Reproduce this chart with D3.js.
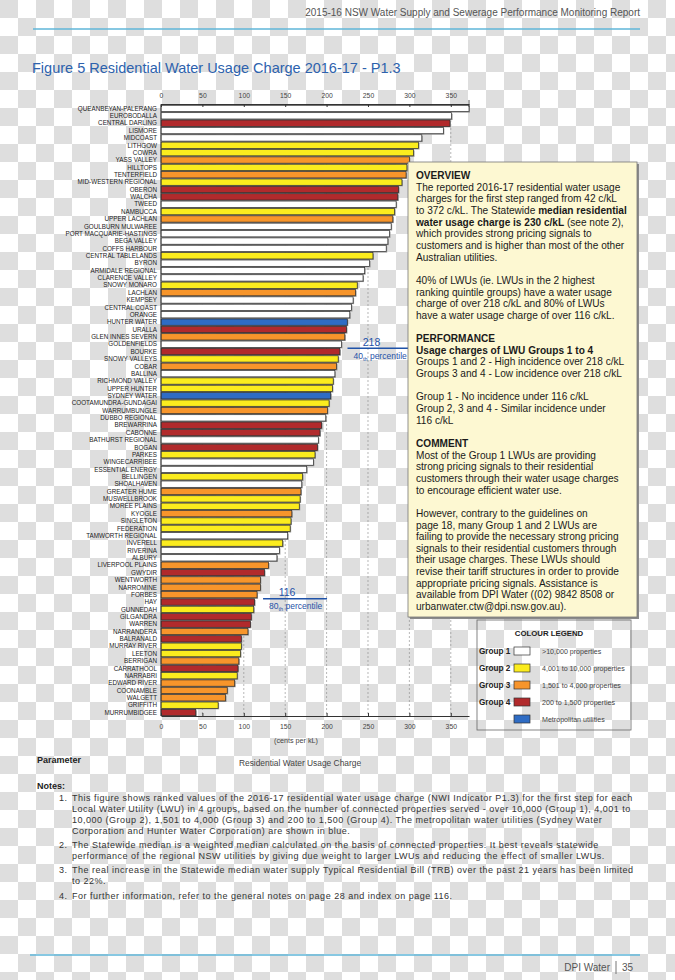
<!DOCTYPE html>
<html>
<head>
<meta charset="utf-8">
<script src="https://cdn.jsdelivr.net/npm/d3@7/dist/d3.min.js"></script>
<style>
body { margin: 0; }
svg { display: block; font-family: "Liberation Sans", Arial, sans-serif; }
</style>
</head>
<body>
<svg id="page" width="675" height="980"></svg>
<script>
const utilities = ['QUEANBEYAN-PALERANG', 'EUROBODALLA', 'CENTRAL DARLING', 'LISMORE', 'MIDCOAST',
    'LITHGOW', 'COWRA', 'YASS VALLEY', 'HILLTOPS', 'TENTERFIELD', 'MID-WESTERN REGIONAL', 'OBERON',
    'WALCHA', 'TWEED', 'NAMBUCCA', 'UPPER LACHLAN', 'GOULBURN MULWAREE', 'PORT MACQUARIE-HASTINGS',
    'BEGA VALLEY', 'COFFS HARBOUR', 'CENTRAL TABLELANDS', 'BYRON', 'ARMIDALE REGIONAL',
    'CLARENCE VALLEY', 'SNOWY MONARO', 'LACHLAN', 'KEMPSEY', 'CENTRAL COAST', 'ORANGE',
    'HUNTER WATER', 'URALLA', 'GLEN INNES SEVERN', 'GOLDENFIELDS', 'BOURKE', 'SNOWY VALLEYS',
    'COBAR', 'BALLINA', 'RICHMOND VALLEY', 'UPPER HUNTER', 'SYDNEY WATER', 'COOTAMUNDRA-GUNDAGAI',
    'WARRUMBUNGLE', 'DUBBO REGIONAL', 'BREWARRINA', 'CABONNE', 'BATHURST REGIONAL', 'BOGAN',
    'PARKES', 'WINGECARRIBEE', 'ESSENTIAL ENERGY', 'BELLINGEN', 'SHOALHAVEN', 'GREATER HUME',
    'MUSWELLBROOK', 'MOREE PLAINS', 'KYOGLE', 'SINGLETON', 'FEDERATION', 'TAMWORTH REGIONAL',
    'INVERELL', 'RIVERINA', 'ALBURY', 'LIVERPOOL PLAINS', 'GWYDIR', 'WENTWORTH', 'NARROMINE',
    'FORBES', 'HAY', 'GUNNEDAH', 'GILGANDRA', 'WARREN', 'NARRANDERA', 'BALRANALD', 'MURRAY RIVER',
    'LEETON', 'BERRIGAN', 'CARRATHOOL', 'NARRABRI', 'EDWARD RIVER', 'COONAMBLE', 'WALGETT',
    'GRIFFITH', 'MURRUMBIDGEE'];

const groups = ['g1', 'g1', 'g4', 'g1', 'g1', 'g2', 'g2', 'g3', 'g2', 'g3', 'g2', 'g4',
    'g4', 'g1', 'g2', 'g3', 'g1', 'g1', 'g1', 'g1', 'g2', 'g1', 'g1',
    'g1', 'g2', 'g3', 'g1', 'g1', 'g1', 'metro', 'g4', 'g3', 'g1', 'g4', 'g2',
    'g3', 'g1', 'g2', 'g2', 'metro', 'g2', 'g3', 'g1', 'g4', 'g4', 'g1', 'g4',
    'g2', 'g1', 'g1', 'g2', 'g1', 'g3', 'g2', 'g2', 'g3', 'g2', 'g2', 'g1',
    'g2', 'g1', 'g1', 'g3', 'g4', 'g3', 'g3', 'g3', 'g4', 'g2', 'g4', 'g4', 'g3', 'g4', 'g2',
    'g2', 'g3', 'g4', 'g2', 'g3', 'g3', 'g3', 'g2', 'g4'];

// cents per kL, first step
const charges = [372, 351, 349, 341, 315, 311, 305, 300, 297, 296, 291, 287,
    286, 284, 282, 280, 278, 276, 274, 272, 256, 252, 246,
    244, 237, 235, 232, 230, 228, 225, 224, 222, 218, 216, 214,
    212, 210, 208, 207, 205, 203, 201, 199, 194, 192, 190, 189,
    186, 184, 176, 171, 170, 169, 168, 167, 158, 157, 156, 153,
    147, 143, 140, 130, 125, 120, 120, 116, 113, 112, 109, 108, 105, 97, 97,
    96, 94, 93, 92, 89, 80, 78, 69, 42];

const axisTicks = [0, 50, 100, 150, 200, 250, 300, 350];

const legendGroups = ['g1', 'g2', 'g3', 'g4', 'metro'];
const legendNames = ['Group 1', 'Group 2', 'Group 3', 'Group 4', ''];
const legendText = ['>10,000 properties', '4,001 to 10,000 properties', '1,501 to 4,000 properties',
    '200 to 1,500 properties', 'Metropolitan utilities'];

const percentiles = [{value: 218, label: '40', at: 'GOLDENFIELDS'}, {value: 116, label: '80', at: 'FORBES'}];

const colours = {g1: '#ffffff', g2: '#fbec1e', g3: '#f7952b', g4: '#b12a2c', metro: '#2f6cc4'};

const data = utilities.map((name, i) => ({name, group: groups[i], value: charges[i]}));

const svg = d3.select('#page');

// transparent-image checkerboard behind everything
const pat = svg.append('defs').append('pattern').attr('id', 'checker')
    .attr('width', 36).attr('height', 36).attr('patternUnits', 'userSpaceOnUse');
pat.append('rect').attr('width', 36).attr('height', 36).attr('fill', '#ffffff');
pat.append('rect').attr('width', 18).attr('height', 18).attr('fill', '#dedede');
pat.append('rect').attr('x', 18).attr('y', 18).attr('width', 18).attr('height', 18).attr('fill', '#dedede');
svg.append('rect').attr('width', 675).attr('height', 980).attr('fill', 'url(#checker)');

// page header / footer
svg.append('text').attr('x', 640).attr('y', 16).attr('text-anchor', 'end')
    .attr('font-size', 10).attr('fill', '#555')
    .text('2015-16 NSW Water Supply and Sewerage Performance Monitoring Report');
svg.append('line').attr('x1', 33).attr('x2', 640).attr('y1', 29).attr('y2', 29)
    .attr('stroke', '#5fb6d9').attr('stroke-width', 1.5);
svg.append('line').attr('x1', 30).attr('x2', 640).attr('y1', 955).attr('y2', 955)
    .attr('stroke', '#5fb6d9').attr('stroke-width', 1.5);
svg.append('text').attr('x', 610).attr('y', 971).attr('text-anchor', 'end')
    .attr('font-size', 10).attr('fill', '#555').text('DPI Water');
svg.append('line').attr('x1', 616).attr('x2', 616).attr('y1', 961).attr('y2', 974).attr('stroke', '#777');
svg.append('text').attr('x', 622).attr('y', 971).attr('font-size', 10).attr('fill', '#555').text('35');

svg.append('text').attr('x', 32).attr('y', 73).attr('font-size', 14.5).attr('fill', '#2d62ad')
    .text('Figure 5  Residential Water Usage Charge  2016-17 - P1.3');

// chart
const xScale = d3.scaleLinear().domain([0, 372]).range([161, 469]);
const yScale = d3.scaleBand().domain(utilities).range([105.3, 715.7]).paddingInner(0.14);
const chartTop = 104, chartBottom = 716;

svg.append('g').selectAll('line').data(axisTicks.slice(1)).enter().append('line')
    .attr('x1', d => xScale(d)).attr('x2', d => xScale(d))
    .attr('y1', chartTop).attr('y2', chartBottom)
    .attr('stroke', '#888').attr('stroke-width', 0.6).attr('stroke-dasharray', '2,2');

svg.append('g').selectAll('.shadow').data(data).enter().append('rect')
    .attr('x', xScale(0) + 1)
    .attr('y', d => yScale(d.name) + 1)
    .attr('width', d => xScale(d.value) - xScale(0))
    .attr('height', yScale.bandwidth())
    .attr('fill', '#9a9a9a');

svg.append('g').selectAll('.bar').data(data).enter().append('rect')
    .classed('bar', true)
    .attr('x', xScale(0))
    .attr('y', d => yScale(d.name))
    .attr('width', d => xScale(d.value) - xScale(0))
    .attr('height', yScale.bandwidth())
    .attr('fill', d => colours[d.group])
    .attr('stroke', '#2a2a2a').attr('stroke-width', 0.7);

svg.append('g').selectAll('text').data(data).enter().append('text')
    .attr('x', 157).attr('y', d => yScale(d.name) + yScale.bandwidth() / 2)
    .attr('dy', '0.35em').attr('text-anchor', 'end')
    .attr('font-size', 6.3).attr('fill', '#222')
    .text(d => d.name);

const topAxis = svg.append('g').attr('transform', `translate(0, ${chartTop})`)
    .call(d3.axisTop(xScale).tickValues(axisTicks).tickSize(-3).tickPadding(6).tickSizeOuter(0));
const bottomAxis = svg.append('g').attr('transform', `translate(0, ${chartBottom})`)
    .call(d3.axisBottom(xScale).tickValues(axisTicks).tickSize(-3).tickPadding(8).tickSizeOuter(0));
[topAxis, bottomAxis].forEach(ax => {
    ax.select('.domain').attr('stroke', '#333');
    ax.selectAll('.tick line').attr('stroke', '#333');
    ax.selectAll('.tick text').attr('font-size', 6.8).attr('fill', '#444')
        .attr('font-family', '"Liberation Sans", Arial, sans-serif');
});
svg.append('line').attr('x1', xScale(0)).attr('x2', xScale(0)).attr('y1', chartTop).attr('y2', chartBottom)
    .attr('stroke', '#333').attr('stroke-width', 0.8);
svg.append('line').attr('x1', xScale(372)).attr('x2', xScale(372)).attr('y1', chartTop - 4).attr('y2', chartTop + 3)
    .attr('stroke', '#333').attr('stroke-width', 0.8);

svg.append('text').attr('x', 296).attr('y', 743).attr('text-anchor', 'middle')
    .attr('font-size', 7.2).attr('fill', '#444').text('(cents per kL)');

// percentile markers, drawn just below the bar at that rank
percentiles.forEach(p => {
    const y = yScale(p.at) + yScale.bandwidth() + 1;
    const x0 = xScale(p.value) + 6;
    const g = svg.append('g').attr('fill', '#1f52a8');
    g.append('line').attr('x1', x0).attr('x2', x0 + 64).attr('y1', y).attr('y2', y)
        .attr('stroke', '#1f52a8').attr('stroke-width', 1.5);
    g.append('text').attr('x', x0 + 24).attr('y', y - 2.5).attr('text-anchor', 'middle')
        .attr('font-size', 10.5).text(p.value);
    const t = g.append('text').attr('x', x0 + 6).attr('y', y + 10.5).attr('font-size', 8.5);
    t.append('tspan').text(p.label);
    t.append('tspan').attr('font-size', 5.5).attr('dy', 2).text('th');
    t.append('tspan').attr('dy', -2).text(' percentile');
});

// overview box
svg.append('rect').attr('x', 410).attr('y', 164).attr('width', 229).attr('height', 455).attr('fill', '#8a8a8a');
svg.append('rect').attr('x', 408).attr('y', 162).attr('width', 229).attr('height', 455)
    .attr('fill', '#fdf8d2').attr('stroke', '#777').attr('stroke-width', 0.8);

const overviewLines = [
    [{t: 'OVERVIEW', b: true}],
    [{t: 'The reported 2016-17 residential water usage'}],
    [{t: 'charges for the first step ranged from 42 c/kL'}],
    [{t: 'to 372 c/kL. The Statewide '}, {t: 'median residential', b: true}],
    [{t: 'water usage charge is 230 c/kL', b: true}, {t: ' (see note 2),'}],
    [{t: 'which provides strong pricing signals to'}],
    [{t: 'customers and is higher than most of the other'}],
    [{t: 'Australian utilities.'}],
    [],
    [{t: '40% of LWUs (ie. LWUs in the 2 highest'}],
    [{t: 'ranking quintile groups) have a water usage'}],
    [{t: 'charge of over 218 c/kL and 80% of LWUs'}],
    [{t: 'have a water usage charge of over 116 c/kL.'}],
    [],
    [{t: 'PERFORMANCE', b: true}],
    [{t: 'Usage charges of LWU Groups 1 to 4', b: true}],
    [{t: 'Groups 1 and 2 - High incidence over 218 c/kL'}],
    [{t: 'Groups 3 and 4 - Low incidence over 218 c/kL'}],
    [],
    [{t: 'Group 1 - No incidence under 116 c/kL'}],
    [{t: 'Group 2, 3 and 4 - Similar incidence under'}],
    [{t: '116 c/kL'}],
    [],
    [{t: 'COMMENT', b: true}],
    [{t: 'Most of the Group 1 LWUs are providing'}],
    [{t: 'strong pricing signals to their residential'}],
    [{t: 'customers through their water usage charges'}],
    [{t: 'to encourage efficient water use.'}],
    [],
    [{t: 'However, contrary to the guidelines on'}],
    [{t: 'page 18, many Group 1 and 2 LWUs are'}],
    [{t: 'failing to provide the necessary strong pricing'}],
    [{t: 'signals to their residential customers through'}],
    [{t: 'their usage charges. These LWUs should'}],
    [{t: 'revise their tariff structures in order to provide'}],
    [{t: 'appropriate pricing signals. Assistance is'}],
    [{t: 'available from DPI Water ((02) 9842 8508 or'}],
    [{t: 'urbanwater.ctw@dpi.nsw.gov.au).'}],
];
const ov = svg.append('g').attr('font-size', 10.1).attr('fill', '#1a1a1a');
overviewLines.forEach((parts, i) => {
    const t = ov.append('text').attr('x', 416).attr('y', 179 + i * 11.65);
    parts.forEach(p => t.append('tspan').attr('font-weight', p.b ? 'bold' : null).text(p.t));
});

// colour legend
svg.append('rect').attr('x', 477).attr('y', 620).attr('width', 154).attr('height', 110)
    .attr('fill', 'none').attr('stroke', '#666').attr('stroke-width', 0.8);
svg.append('text').attr('x', 549).attr('y', 636).attr('text-anchor', 'middle')
    .attr('font-size', 7.8).attr('font-weight', 'bold').attr('fill', '#222').text('COLOUR LEGEND');
const legendY = d3.scalePoint().domain(legendGroups).range([651, 719]);
const lg = svg.append('g').selectAll('g').data(legendGroups).enter().append('g')
    .attr('transform', d => `translate(0, ${legendY(d)})`);
lg.append('text').attr('x', 479).attr('dy', '0.35em').attr('font-size', 8.2).attr('font-weight', 'bold')
    .attr('fill', '#222').text((d, i) => legendNames[i]);
lg.append('rect').attr('x', 514).attr('y', -4).attr('width', 16).attr('height', 8)
    .attr('fill', d => colours[d]).attr('stroke', '#333').attr('stroke-width', 0.7);
lg.append('text').attr('x', 542).attr('dy', '0.35em').attr('font-size', 7.1).attr('fill', '#444')
    .text((d, i) => legendText[i]);

// parameter + notes
svg.append('text').attr('x', 37).attr('y', 763).attr('font-size', 9).attr('font-weight', 'bold')
    .attr('fill', '#222').text('Parameter');
svg.append('text').attr('x', 300).attr('y', 766).attr('text-anchor', 'middle').attr('font-size', 8.4)
    .attr('fill', '#444').text('Residential Water Usage Charge');
svg.append('text').attr('x', 37).attr('y', 789).attr('font-size', 9).attr('font-weight', 'bold')
    .attr('fill', '#222').text('Notes:');

const notes = [
    ['1.', 'This figure shows ranked values of the 2016-17 residential water usage charge (NWI Indicator P1.3) for the first step for each'],
    ['', 'Local Water Utility (LWU) in 4 groups, based on the number of connected properties served - over 10,000 (Group 1), 4,001 to'],
    ['', '10,000 (Group 2), 1,501 to 4,000 (Group 3) and 200 to 1,500 (Group 4). The metropolitan water utilities (Sydney Water'],
    ['', 'Corporation and Hunter Water Corporation) are shown in blue.'],
    ['2.', 'The Statewide median is a weighted median calculated on the basis of connected properties. It best reveals statewide'],
    ['', 'performance of the regional NSW utilities by giving due weight to larger LWUs and reducing the effect of smaller LWUs.'],
    ['3.', 'The real increase in the Statewide median water supply Typical Residential Bill (TRB) over the past 21 years has been limited'],
    ['', 'to 22%.'],
    ['4.', 'For further information, refer to the general notes on page 28 and index on page 116.'],
];
const noteY = [801, 812, 823, 834, 848, 859, 873, 884, 899];
const ng = svg.append('g').attr('font-size', 9).attr('letter-spacing', 0.5).attr('fill', '#333');
notes.forEach((n, i) => {
    ng.append('text').attr('x', 59).attr('y', noteY[i]).text(n[0]);
    ng.append('text').attr('x', 72).attr('y', noteY[i]).text(n[1]);
});
</script>
</body>
</html>
